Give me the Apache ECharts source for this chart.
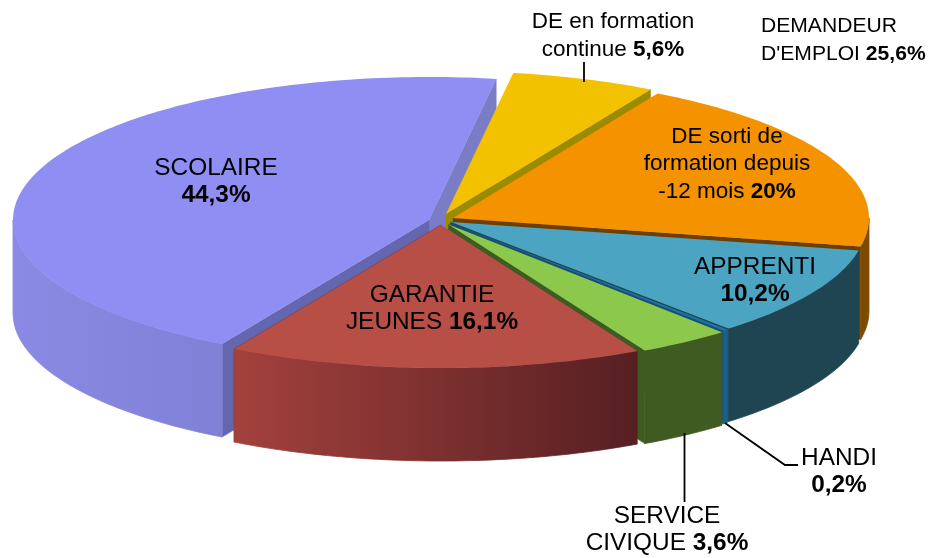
<!DOCTYPE html>
<html>
<head>
<meta charset="utf-8">
<style>
  html, body { margin: 0; padding: 0; background: #fff; }
  #chart { width: 931px; height: 558px; }
</style>
<script src="https://cdn.jsdelivr.net/npm/echarts@6/dist/echarts.min.js"></script>
</head>
<body>
<div id="chart"></div>
<script>
// slices clockwise, starting with the yellow one
const categories = ['DE en formation continue', 'DE sorti de formation depuis -12 mois', 'APPRENTI', 'HANDI', 'SERVICE CIVIQUE', 'GARANTIE JEUNES', 'SCOLAIRE'];
const values = [5.6, 20, 10.2, 0.2, 3.6, 16.1, 44.3];

// painter's order, back to front
const drawOrder = [6, 0, 1, 2, 3, 4, 5];

const startAngle = 9.3;
const rx = 416;
const ry = 143;
const depth = 93;

// apex of each exploded slice
const apexX = [446, 453, 451, 450, 448.5, 441, 429];
const apexY = [214, 218, 222, 223, 224.5, 225, 220];

const topColors = ['#F2C200', '#F59200', '#4BA5C2', '#1F72A6', '#8CC84B', '#B84F47', '#8E8EF3'];
const wallColors = ['#9C8A00', '#6E3F00', '#1F4553', '#154F75', '#3F5B21', '#6A2A2A', '#6466B0'];
const rimColors = [
    ['#A88A00', '#A88A00'],
    ['#7C4A00', '#7C4A00'],
    ['#1F4553', '#1F4553'],
    ['#17608F', '#17608F'],
    ['#3F5B21', '#3F5B21'],
    ['#A3413D', '#561F22'],
    ['#8A8AE4', '#7F80D6']
];
// the end wall of the big slice catches more light than its side near the centre
const scolaireEndWall = '#7B7CC6';

const total = values.reduce((a, b) => a + b, 0);
const sliceAngles = [];
let acc = startAngle;
values.forEach(v => {
    const span = v / total * 360;
    sliceAngles.push([acc, acc + span]);
    acc += span;
});

function pt(i, deg, dy) {
    const r = deg * Math.PI / 180;
    return [apexX[i] + rx * Math.sin(r), apexY[i] - ry * Math.cos(r) + (dy || 0)];
}

function arc(i, from, to, dy) {
    const pts = [];
    const n = Math.max(2, Math.ceil(Math.abs(to - from)));
    for (let k = 0; k <= n; k++) {
        pts.push(pt(i, from + (to - from) * k / n, dy));
    }
    return pts;
}

function renderSlice(params, api) {
    const i = api.value(0);
    const [a0, a1] = sliceAngles[i];
    const apex = [apexX[i], apexY[i]];
    const children = [];

    // radial wall at the slice's clockwise end
    const endFill = i === 6 ? scolaireEndWall : wallColors[i];
    children.push({
        type: 'polygon',
        shape: { points: [apex, pt(i, a1), pt(i, a1, depth), [apex[0], apex[1] + depth]] },
        style: { fill: endFill, stroke: endFill, lineWidth: 0.5 }
    });

    // radial wall at the start, only the big slice shows it (it wraps past the front)
    if (i === 6) {
        children.push({
            type: 'polygon',
            shape: { points: [apex, pt(i, a0), pt(i, a0, depth), [apex[0], apex[1] + depth]] },
            style: { fill: wallColors[i], stroke: wallColors[i], lineWidth: 0.5 }
        });
    }

    // outer rim, front half of the ellipse only
    const rimFrom = Math.max(a0, 90);
    const rimTo = Math.min(a1, 270);
    if (rimTo > rimFrom) {
        const rim = arc(i, rimFrom, rimTo, 0).concat(arc(i, rimTo, rimFrom, depth));
        const rimFill = new echarts.graphic.LinearGradient(0, 0, 1, 0, [
            { offset: 0, color: rimColors[i][0] },
            { offset: 1, color: rimColors[i][1] }
        ]);
        children.push({
            type: 'polygon',
            shape: { points: rim },
            // thin stroke hides the antialias seam against the end wall
            style: { fill: rimFill, stroke: rimFill, lineWidth: 0.8 }
        });
    }

    children.push({
        type: 'polygon',
        shape: { points: [apex].concat(arc(i, a0, a1, 0)) },
        style: { fill: topColors[i] }
    });

    return { type: 'group', children: children };
}

function label(x, y, text, size, align) {
    const base = { lineHeight: 27.5, fill: '#000', fontFamily: '"Liberation Sans"', fontSize: size };
    return {
        type: 'text',
        x: x,
        y: y,
        z: 10,
        style: {
            text: text,
            fill: '#000',
            align: align || 'center',
            verticalAlign: 'middle',
            fontFamily: '"Liberation Sans", Arial, sans-serif',
            fontSize: size,
            lineHeight: 27.5,
            rich: {
                n: Object.assign({}, base),
                b: Object.assign({ fontWeight: 'bold' }, base)
            }
        }
    };
}

function leader(points) {
    return {
        type: 'polyline',
        z: 9,
        shape: { points: points },
        style: { stroke: '#000', lineWidth: 1.8, fill: null }
    };
}

const chart = echarts.init(document.getElementById('chart'), null, { renderer: 'canvas' });

chart.setOption({
    backgroundColor: '#fff',
    animation: false,
    series: [{
        type: 'custom',
        coordinateSystem: 'none',
        name: 'repartition',
        renderItem: renderSlice,
        data: drawOrder.map(i => ({ name: categories[i], value: [i, values[i]] }))
    }],
    graphic: [
        leader([[584, 62], [584, 82]]),
        leader([[684.5, 433], [684.5, 502]]),
        leader([[725, 423], [785, 465], [798, 465]]),
        label(613, 36, '{n|DE en formation}\n{n|continue }{b|5,6%}', 22.5),
        label(761, 40, "{n|DEMANDEUR}\n{n|D'EMPLOI }{b|25,6%}", 21.1, 'left'),
        label(727, 164, '{n|DE sorti de}\n{n|formation depuis}\n{n|-12 mois }{b|20%}', 22.5),
        label(216, 182, '{n|SCOLAIRE}\n{b|44,3%}', 24.4),
        label(755, 281, '{n|APPRENTI}\n{b|10,2%}', 24.4),
        label(432, 309, '{n|GARANTIE}\n{n|JEUNES }{b|16,1%}', 24.4),
        label(839, 472, '{n|HANDI}\n{b|0,2%}', 24.4),
        label(667, 530, '{n|SERVICE}\n{n|CIVIQUE }{b|3,6%}', 24.4)
    ]
});

window.addEventListener('resize', () => chart.resize());
</script>
</body>
</html>
